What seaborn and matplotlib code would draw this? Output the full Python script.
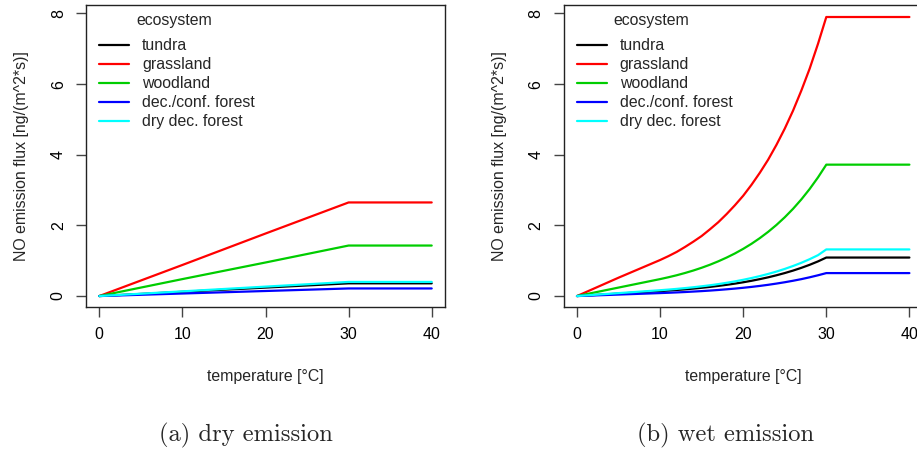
import matplotlib
matplotlib.use("Agg")
import matplotlib.pyplot as plt
import pandas as pd
import seaborn as sns

ecosystems = ["tundra", "grassland", "woodland", "dec./conf. forest", "dry dec. forest"]
colors = ["#000000", "#FF0000", "#00CD00", "#0000FF", "#00FFFF"]

# dry emission (panel a)
dry_temp = [0, 10, 20, 30, 40]
dry_tundra = [0, 0.12, 0.24, 0.36, 0.36]
dry_grassland = [0, 0.88, 1.77, 2.65, 2.65]
dry_woodland = [0, 0.48, 0.95, 1.43, 1.43]
dry_decconf = [0, 0.072, 0.143, 0.215, 0.215]
dry_drydec = [0, 0.133, 0.267, 0.40, 0.40]

# wet emission (panel b)
wet_temp = [0, 5, 10, 11, 12, 13, 14, 15, 16, 17, 18, 19, 20,
            21, 22, 23, 24, 25, 26, 27, 28, 29, 30, 40]
wet_tundra = [0, 0.07, 0.14, 0.155, 0.172, 0.190, 0.211, 0.234, 0.259, 0.287, 0.318, 0.352, 0.390,
              0.432, 0.479, 0.530, 0.588, 0.651, 0.721, 0.799, 0.885, 0.981, 1.09, 1.09]
wet_grassland = [0, 0.52, 1.02, 1.13, 1.25, 1.39, 1.54, 1.70, 1.89, 2.09, 2.32, 2.57, 2.84,
                 3.15, 3.49, 3.86, 4.28, 4.74, 5.25, 5.82, 6.44, 7.14, 7.90, 7.90]
wet_woodland = [0, 0.24, 0.48, 0.532, 0.589, 0.653, 0.723, 0.801, 0.887, 0.983, 1.089, 1.206, 1.336,
                1.48, 1.64, 1.817, 2.013, 2.23, 2.47, 2.737, 3.032, 3.359, 3.72, 3.72]
wet_decconf = [0, 0.042, 0.084, 0.093, 0.103, 0.114, 0.127, 0.140, 0.155, 0.172, 0.191, 0.211, 0.234,
               0.259, 0.287, 0.318, 0.353, 0.391, 0.433, 0.479, 0.531, 0.588, 0.65, 0.65]
wet_drydec = [0, 0.083, 0.165, 0.183, 0.203, 0.225, 0.249, 0.276, 0.305, 0.338, 0.375, 0.415, 0.46,
              0.51, 0.565, 0.626, 0.693, 0.768, 0.851, 0.942, 1.044, 1.157, 1.32, 1.32]

x_ticks = [0, 10, 20, 30, 40]
y_ticks = [0, 2, 4, 6, 8]
x_label = "temperature [°C]"
y_label = "NO emission flux [ng/(m^2*s)]"
legend_title = "ecosystem"
captions = ["(a) dry emission", "(b) wet emission"]


def long_frame(temp, series):
    rows = []
    for name, vals in zip(ecosystems, series):
        for t, v in zip(temp, vals):
            rows.append({"temperature": t, "flux": v, "ecosystem": name})
    return pd.DataFrame(rows)


df_dry = long_frame(dry_temp, [dry_tundra, dry_grassland, dry_woodland, dry_decconf, dry_drydec])
df_wet = long_frame(wet_temp, [wet_tundra, wet_grassland, wet_woodland, wet_decconf, wet_drydec])

sns.set_style("white")
plt.rcParams["font.family"] = ["Liberation Sans", "DejaVu Sans"]

FS = 11.4
TFS = 11.5
fig = plt.figure(figsize=(9.17, 4.51), dpi=100)
W, H = 917, 451
ax_w = 359 / W
ax_h = 302 / H
bottom = 1 - 307 / H
lefts = [86, 563.7]
axes = [fig.add_axes([l / W, bottom, ax_w, ax_h]) for l in lefts]

for ax, df, cap, cx, lx in zip(axes, [df_dry, df_wet], captions, [246, 726], lefts):
    sns.lineplot(data=df, x="temperature", y="flux", hue="ecosystem",
                 hue_order=ecosystems, palette=colors, linewidth=1.6,
                 errorbar=None, ax=ax)
    ax.set_xlim(-1.6, 41.6)
    ax.set_ylim(-0.31, 8.24)
    ax.set_xticks(x_ticks)
    ax.set_yticks(y_ticks)
    ax.set_xticklabels([str(v) for v in x_ticks], fontsize=TFS)
    ax.set_yticklabels([str(v) for v in y_ticks], fontsize=TFS, rotation=90, va="center")
    ax.tick_params(axis="both", direction="out", length=7, width=1.0,
                   color="#444444", labelcolor="#000000", bottom=True, left=True)
    ax.tick_params(axis="x", pad=7.5)
    ax.tick_params(axis="y", pad=7.5)
    for sp in ax.spines.values():
        sp.set_visible(True)
        sp.set_color("#222222")
        sp.set_linewidth(1.0)
    ax.set_xlabel(x_label, fontsize=FS, va="center")
    ax.set_ylabel(y_label, fontsize=FS, va="center")
    ax.xaxis.set_label_coords(0.5, (307 - 376) / 302)
    ax.yaxis.set_label_coords((22 - 86) / 359, 0.5)
    handles, labels = ax.get_legend_handles_labels()
    for h in handles:
        h.set_linewidth(1.6)
    ax.legend(handles, labels, fontsize=FS,
              frameon=False, loc="upper left",
              bbox_to_anchor=((99 - 86) / 359, 1 - (38.3 - 5) / 302),
              borderaxespad=0, borderpad=0, handlelength=1.9, handletextpad=0.82,
              labelspacing=0.25)
    fig.text((lx + 88) / W, 1 - 20.7 / H, legend_title, fontsize=FS,
             ha="center", va="center")
    fig.text(cx / W, 1 - 435 / H, cap, family=["cmr10", "DejaVu Serif"],
             fontsize=17.7, ha="center", va="center")

fig.savefig("out.png", dpi=100)
